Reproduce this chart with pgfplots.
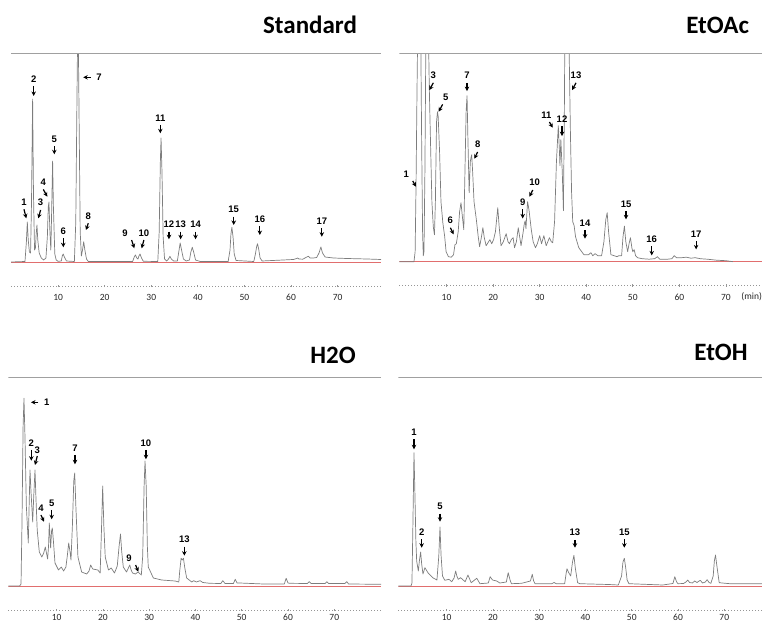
\documentclass[border=0pt]{standalone}
\usepackage{fontspec}
\setmainfont{Carlito}
\newfontfamily\labfont{Liberation Sans}
\usepackage{pgfplots}
\pgfplotsset{compat=1.18}
\usetikzlibrary{arrows.meta}
\definecolor{chromc}{RGB}{125,125,125}
\definecolor{topc}{RGB}{160,160,160}
\definecolor{basered}{RGB}{225,110,110}
\definecolor{axc}{RGB}{150,150,150}
\pgfplotsset{chrom/.style={scale only axis, height=232.5pt, ymin=-24, ymax=208.5,
  anchor=south west,
  axis y line=none, axis x line=bottom,
  x axis line style={-, axc, line width=0.7pt, dash pattern=on 0.7pt off 2.3pt},
  xtick={10,20,...,70}, tick style={axc, line width=0.8pt, solid}, major tick length=2.5pt, tick align=center,
  xticklabel style={font=\fontsize{9.5}{11}\selectfont, text=black!85, yshift=-3.5pt},
  /pgf/number format/assume math mode=true, clip=true},
  lowpanel/.style={xticklabel style={yshift=3.8pt}},
  trace/.style={chromc, line width=0.7pt, line join=round, mark=none},
  base/.style={basered, line width=0.6pt, mark=none},
  top/.style={topc, line width=1pt, mark=none}}
\tikzset{annarr/.style={-{Stealth[length=4.5pt,width=4.5pt]}, line width=1.2pt, black},
  annlab/.style={font=\labfont\bfseries\fontsize{9.5}{11}\selectfont, inner sep=3.3pt}}
\newcommand{\ann}[6]{\draw[annarr] ([shift={(#3pt,#4pt)}]axis cs:#1,#2) node[annlab,anchor=#5]{#6} -- (axis cs:#1,#2);}
\newcommand{\titlefont}{\bfseries\fontsize{25}{28}\selectfont}
\begin{document}
\begin{tikzpicture}
\path[use as bounding box] (0,0) rectangle (762pt,623pt);
% ---------------- Standard
\begin{axis}[chrom, at={(11pt,337pt)}, width=370pt, xmin=-0.1, xmax=79.3]
\addplot[base] coordinates {(-0.1,0) (79.3,0)};
\addplot[trace] coordinates {(-0.1,0) (2.9,0.5) (3.2,20) (3.4,40) (3.6,22) (3.85,10) (4.1,9) (4.3,60) (4.54,163) (4.72,70) (4.95,12) (5.15,14) (5.3,28) (5.47,37) (5.65,22) (5.95,9) (6.4,4) (6.9,2) (7.4,4) (7.7,25) (7.9,55) (8.05,60) (8.25,30) (8.45,12) (8.6,45) (8.83,101) (9.0,55) (9.3,8) (9.6,2) (10.0,0.7) (10.7,1) (10.9,6) (11.1,8) (11.35,5) (11.8,1) (13.5,0.5) (13.8,40) (14.05,160) (14.27,260) (14.5,150) (14.75,30) (15.0,6) (15.25,12) (15.5,20.3) (15.75,12) (16.1,3) (16.5,0.5) (26.0,0.5) (26.35,5) (26.6,7) (26.9,4) (27.15,3) (27.35,6) (27.6,8) (27.9,4) (28.3,0.7) (31.4,0.5) (31.7,30) (31.95,100) (32.1,124) (32.3,90) (32.55,25) (32.85,3) (33.3,1) (33.7,3) (34.0,5.7) (34.3,3) (34.8,1) (35.6,1) (35.9,10) (36.2,19) (36.5,12) (36.9,3) (37.5,1) (38.2,2) (38.5,10) (38.8,14.7) (39.1,10) (39.5,2) (40.5,0.5) (46.5,0.5) (46.9,12) (47.1,28) (47.3,34.7) (47.55,25) (47.8,8) (48.2,1.5) (52.0,0.5) (52.35,8) (52.6,15) (52.8,18.3) (53.05,13) (53.35,4) (53.8,1) (58.3,2) (60.5,2.5) (61.2,3.5) (61.4,4) (61.7,3) (62.5,2.8) (63.4,5) (63.7,5.7) (64.1,4) (64.8,4) (65.5,4.5) (66.0,9) (66.4,15) (66.75,9) (67.3,5) (69.1,4) (72,3.5) (76.3,3) (79.3,2.5)};
\addplot[top] coordinates {(-0.1,208) (79.3,208)};
\ann{3.18}{43.7}{-2.3}{9}{south}{1}
\ann{4.76}{166}{0}{10}{south}{2}
\ann{5.76}{43.7}{2.3}{8.3}{south}{3}
\ann{7.69}{65.3}{-4}{7.3}{south}{4}
\ann{9.19}{107.7}{0}{8}{south}{5}
\ann{11.12}{14.7}{0}{9}{south}{6}
\ann{15.4}{184.7}{7.3}{0}{west,xshift=2pt}{7}
\ann{15.99}{32}{2.3}{6.7}{south}{8}
\ann{26.36}{13.7}{-2.7}{8.3}{south east}{9}
\ann{27.93}{13.7}{2.3}{8.3}{south}{10}
\ann{31.94}{128.7}{0}{8.3}{south}{11}
\ann{33.8}{22.7}{0}{7.7}{south}{12}
\ann{36.3}{22.7}{0}{7.7}{south}{13}
\ann{39.5}{22.7}{0}{7.7}{south}{14}
\ann{47.7}{37}{0}{8.3}{south}{15}
\ann{53.3}{27}{0}{9}{south}{16}
\ann{66.6}{25.3}{0}{8.3}{south}{17}
\end{axis}
% ---------------- EtOAc
\begin{axis}[chrom, at={(399.3pt,337.3pt)}, width=362.9pt, xmin=-0.15, xmax=77.8]
\addplot[base] coordinates {(-0.15,0) (77.8,0)};
\addplot[trace] coordinates {(-0.15,0) (3.0,0) (3.25,10) (3.44,75) (3.65,170) (3.8,230) (4.1,290) (4.45,230) (4.65,120) (4.85,30) (5.0,6) (5.15,10) (5.35,90) (5.55,220) (5.8,300) (6.1,230) (6.3,172) (6.55,120) (6.85,60) (7.15,35) (7.4,27) (7.6,60) (7.85,140) (8.05,150) (8.2,145) (8.5,110) (8.8,60) (9.2,39) (9.6,25) (9.9,10) (10.4,5) (11.0,4.5) (11.5,7) (11.8,17) (12.1,18) (12.5,30) (12.8,50) (13.1,59) (13.4,45) (13.7,32) (13.95,90) (14.2,150) (14.4,166) (14.6,120) (14.85,69) (15.1,100) (15.25,104) (15.4,107) (15.6,90) (15.9,60) (16.4,42) (16.8,25) (17.1,15) (17.5,25) (17.8,34) (18.1,24) (18.5,16) (18.9,19) (19.3,22) (19.7,18) (20.1,22) (20.5,30) (21.0,54) (21.3,35) (21.7,16) (22.2,20) (22.8,28) (23.2,20) (23.5,18) (23.9,22) (24.3,24) (24.6,14) (25.0,20) (25.4,34) (25.7,25) (26.0,16) (26.4,28) (26.7,38) (26.9,41) (27.05,33) (27.4,60) (27.7,52) (28.2,32) (28.6,20) (29.1,14) (29.5,18) (30.0,26) (30.4,18) (30.9,26) (31.4,16) (32.1,24) (32.5,20) (32.8,19) (33.2,40) (33.6,100) (34.0,136) (34.25,110) (34.35,96) (34.55,122) (34.85,90) (35.1,51) (35.3,150) (35.5,290) (35.9,300) (36.3,220) (36.6,130) (36.85,70) (37.1,40) (37.4,36) (37.7,25) (38.4,14) (39.5,7) (40.5,7) (41.0,9) (41.4,6) (41.9,8) (42.5,6) (43.3,6) (43.8,20) (44.2,42) (44.5,49) (44.8,30) (45.3,7) (46.0,6) (46.6,5) (47.0,6) (47.6,6) (47.9,25) (48.2,35.6) (48.5,20) (48.9,10) (49.2,18) (49.5,24) (49.8,14) (50.0,10) (50.3,12) (50.6,6) (51.0,4) (52,3) (53.5,2.5) (54.7,3) (55.3,5) (55.8,2.5) (57.5,2.5) (58.4,3) (58.9,6) (59.4,4) (60.5,4) (61.5,4.5) (62.5,3.5) (63.4,4) (64.5,3) (66,2.5) (68,1.5) (70,1) (71.5,0)};
\addplot[top] coordinates {(-0.15,208) (77.8,208)};
\ann{3.44}{75}{-3.3}{5.7}{south east}{1}
\ann{6.3}{171.6}{4}{7.3}{south}{3}
\ann{8.3}{150}{4}{7.3}{south,xshift=3pt}{5}
\ann{11.53}{27.3}{-3.3}{6.7}{south}{6}
\ann{14.39}{170.6}{0}{8.3}{south}{7}
\ann{15.97}{103}{3.3}{6.7}{south}{8}
\ann{26.35}{43.3}{0}{9}{south}{9}
\ann{27.8}{65}{3.3}{6.7}{south,xshift=2pt}{10}
\ann{32.8}{134}{-3.3}{5.7}{south,xshift=-3pt}{11}
\ann{34.8}{125.6}{0}{10}{south}{12}
\ann{36.95}{171.6}{4}{7.3}{south}{13}
\ann{39.74}{23}{0}{8.3}{south}{14}
\ann{48.55}{42.3}{0}{8.3}{south}{15}
\ann{54.07}{6.3}{0}{9.3}{south}{16}
\ann{63.6}{12.3}{0}{8.3}{south}{17}
\end{axis}
% ---------------- H2O
\begin{axis}[chrom, lowpanel, at={(8.3pt,13pt)}, width=372.7pt, xmin=-0.45, xmax=80.1]
\addplot[base] coordinates {(-0.45,0) (80.1,0)};
\addplot[trace] coordinates {(-0.45,0) (2.0,0) (2.3,2) (2.5,60) (2.75,160) (2.94,187.7) (3.15,150) (3.45,80) (3.87,43) (4.05,80) (4.24,116) (4.45,95) (4.82,64) (5.05,90) (5.32,116) (5.55,85) (5.8,56) (6.25,34) (6.8,29) (7.2,33) (7.55,39) (8.05,27) (8.25,40) (8.41,63) (8.7,38) (8.9,55) (9.06,58) (9.3,45) (9.64,23) (10.4,16) (11.0,19) (11.5,15) (12.0,19) (12.3,30) (12.6,43) (12.9,34) (13.1,26) (13.4,60) (13.7,105) (13.9,113) (14.15,80) (14.6,29) (15.4,14) (16.5,12) (17.0,15) (17.35,21) (17.8,17) (18.9,16) (19.4,13) (19.65,50) (19.95,100) (20.2,60) (20.5,29) (21.2,16) (21.8,18) (22.5,13) (23.1,20) (23.5,40) (23.8,52) (24.05,35) (24.4,19) (25.1,14) (25.5,18) (25.8,21) (26.1,16) (26.4,13) (27.0,12) (27.6,14) (28.3,11) (28.6,30) (28.9,100) (29.1,125) (29.35,100) (29.6,40) (29.8,19) (30.9,8) (32.7,6) (35.6,5) (36.4,4) (36.6,15) (36.9,27.7) (37.15,26) (37.4,27.7) (37.7,18) (38.1,8) (39.2,4) (39.6,5.3) (40.2,4) (41.0,5.3) (41.6,3.5) (43.1,2.7) (45.5,2.5) (45.9,5.3) (46.4,2.5) (48.2,2.5) (48.6,6.7) (49.0,3) (49.6,3) (54.7,2) (59.2,2) (59.6,7.7) (60.0,3) (60.4,2.7) (64.2,2.5) (64.6,4.3) (65,2.5) (68,2.5) (68.4,4.3) (68.8,2.5) (72.3,2.5) (72.7,4.3) (73.1,2) (80.1,1.7)};
\addplot[top] coordinates {(-0.45,208) (80.1,208)};
\ann{4.45}{183.7}{7.3}{0}{west,xshift=2pt}{1}
\ann{4.52}{125.3}{0}{10.7}{south}{2}
\ann{5.32}{121}{2.3}{9}{south,yshift=-2pt}{3}
\ann{7.26}{64.3}{-3}{6.7}{south}{4}
\ann{8.93}{66.7}{0}{9.3}{south}{5}
\ann{13.96}{121.7}{0}{9.3}{south}{7}
\ann{27.65}{14.3}{-2.7}{6.7}{south east}{9}
\ann{29.3}{126.7}{0}{9.3}{south}{10}
\ann{37.6}{30.3}{0}{9}{south}{13}
\end{axis}
% ---------------- EtOH
\begin{axis}[chrom, lowpanel, at={(398.3pt,13pt)}, width=363.7pt, xmin=-0.45, xmax=78.15]
\addplot[base] coordinates {(-0.45,0) (78.15,0)};
\addplot[trace] coordinates {(-0.45,0) (2.3,0) (2.5,3) (2.7,60) (2.94,133.3) (3.15,90) (3.35,45) (3.52,25) (3.88,15) (4.1,25) (4.38,34) (4.6,22) (4.88,12) (5.3,18.3) (6.0,13) (7.1,8) (7.9,6) (8.3,30) (8.56,59) (8.8,30) (9.1,10) (9.6,5.7) (10.5,6.7) (11.1,4.3) (11.6,8) (11.95,15) (12.2,10) (12.5,6.7) (13.0,8.3) (14.0,4.3) (14.6,11) (15.3,3.3) (16.5,7.7) (17.2,2.3) (19.0,3) (19.4,9.3) (19.9,6) (20.8,5) (21.5,3) (22.9,4) (23.3,13.3) (23.7,6) (24.0,2.3) (26.2,2.7) (28.1,5) (28.5,11.7) (28.8,5) (29.1,2.3) (32.7,2.3) (33.2,3.5) (33.7,2.3) (35.5,2.3) (35.8,12) (36.0,17.3) (36.3,14) (36.8,10) (37.2,24) (37.5,30.7) (37.8,18) (38.3,3.3) (38.8,2.3) (45,1.5) (47.1,1) (47.8,10) (48.1,24) (48.4,27.7) (48.7,18) (49.0,6) (49.4,2.3) (56.7,1) (58.9,2.5) (59.3,9.3) (59.7,4) (60.0,2.3) (61.2,2.5) (61.7,4) (62.1,6) (62.5,3.5) (63.1,3) (63.6,5) (64.1,3.5) (64.8,5.7) (65.3,3) (65.9,4) (66.3,6.3) (66.7,3.5) (67.1,2.7) (67.6,10) (67.85,25) (68.1,31) (68.4,20) (68.9,3.3) (71.2,2.3) (78.15,2.3)};
\addplot[top] coordinates {(-0.45,208) (78.15,208)};
\ann{2.94}{136.7}{0}{10}{south}{1}
\ann{4.6}{38.3}{0}{8.3}{south}{2}
\ann{8.56}{64.3}{0}{8}{south}{5}
\ann{37.73}{38.3}{0}{7.7}{south}{13}
\ann{48.4}{38.3}{0}{8.3}{south}{15}
\end{axis}
% ---------------- titles
\node[font=\titlefont] at (310pt,598pt) {Standard};
\node[font=\titlefont] at (717.7pt,598pt) {EtOAc};
\node[font=\titlefont] at (333pt,268pt) {H2O};
\node[font=\titlefont] at (721pt,270.3pt) {EtOH};
\node[font=\fontsize{9.5}{11}\selectfont, text=black!85] at (751.7pt,326pt) {(min)};
\end{tikzpicture}
\end{document}
